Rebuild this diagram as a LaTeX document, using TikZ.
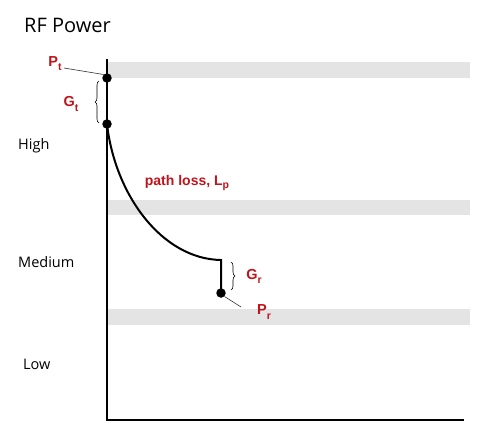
\documentclass[tikz,border=0pt]{standalone}
\usepackage{fontspec}
\setmainfont{Liberation Sans}
\newfontfamily\titlefont{Open Sans}
\usetikzlibrary{decorations.pathreplacing}
\definecolor{lblred}{HTML}{C0141C}
\definecolor{bandgray}{HTML}{E4E4E4}
\newcommand{\lsub}[1]{\raisebox{-0.28em}{\fontsize{10.5}{12}\selectfont #1}}
\tikzset{
  band/.style={fill=bandgray, draw=none},
  axisline/.style={line width=2pt, black},
  dot/.style={circle, fill=black, inner sep=0pt, minimum size=9.5pt},
  redlbl/.style={text=lblred, font=\fontsize{14.5}{16}\selectfont\bfseries, inner sep=0pt},
  levellbl/.style={font=\titlefont\fontsize{14.5}{16}\selectfont, inner sep=0pt, anchor=west},
  bracestyle/.style={decorate, decoration={brace, amplitude=4pt}, line width=0.6pt},
  leader/.style={line width=0.6pt, black!80}
}
\begin{document}
\begin{tikzpicture}[x=1pt, y=-1pt]
\useasboundingbox (0,0) rectangle (499,445);
% bands
\fill[band] (108,62) rectangle (470,78);
\fill[band] (108,200) rectangle (470,215);
\fill[band] (108,309) rectangle (470,325);
% title and level labels
\node[anchor=west, font=\titlefont\fontsize{20}{22}\selectfont, inner sep=0pt] (title) at (24,25) {RF Power};
\node[levellbl] (high) at (18,146) {High};
\node[levellbl] (medium) at (18,262) {Medium};
\node[levellbl] (low) at (23,364) {Low};
% axes
\coordinate (ytop) at (107,59);
\coordinate (origin) at (107,420);
\coordinate (xend) at (464,420);
\draw[axisline] (ytop) -- (origin) -- (xend);
% points
\node[dot] (pt) at (107,78) {};
\node[dot] (gt) at (107,124) {};
\coordinate (bend) at (221,260);
\node[dot] (pr) at (221,293) {};
\draw[line width=2pt] (gt.center) .. controls (115,195) and (162,259) .. (bend) -- (pr.center);
% labels
\node[redlbl] (ptl) at (55,64) {P\lsub{t}};
\draw[leader] (64,68) -- (pt.north west);
\node[redlbl] (gtl) at (71,104) {G\lsub{t}};
\draw[bracestyle] (99,123) -- (99,81);
\node[redlbl, font=\fontsize{14}{16}\selectfont\bfseries] (pl) at (187,183) {path loss, L\lsub{p}};
\draw[bracestyle] (231,262) -- (231,290);
\node[redlbl] (grl) at (254,276) {G\lsub{r}};
\node[redlbl] (prl) at (264,312) {P\lsub{r}};
\draw[leader] (pr.south east) -- (241,307);
\end{tikzpicture}
\end{document}
